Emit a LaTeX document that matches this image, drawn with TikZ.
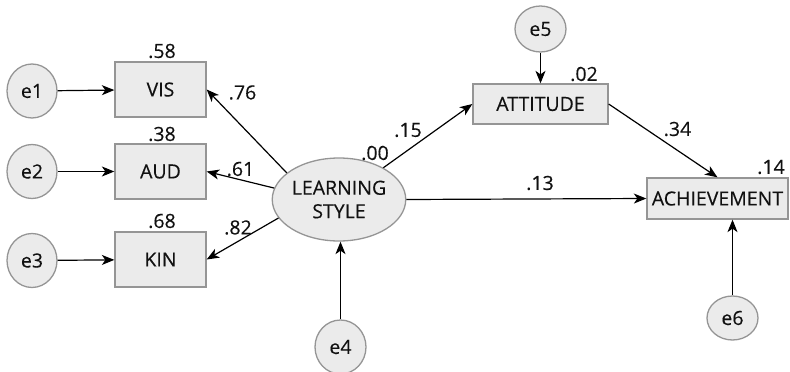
\documentclass[tikz,border=0pt]{standalone}
\usepackage{fontspec}
\setmainfont{Open Sans}[FakeBold=0.3]
\usetikzlibrary{arrows.meta,shapes.geometric}
\definecolor{nodefill}{HTML}{EBEBEB}
\definecolor{nodeline}{HTML}{959595}
\definecolor{inktext}{HTML}{111111}
\begin{document}
\begin{tikzpicture}[x=1pt,y=-1pt,
  font=\fontsize{19.5}{23.5}\selectfont,
  every node/.style={text=inktext},
  obs/.style={draw=nodeline,fill=nodefill,line width=1.3pt,rectangle,inner sep=0pt},
  err/.style={draw=nodeline,fill=nodefill,line width=1.3pt,ellipse,inner sep=0pt},
  lat/.style={draw=nodeline,fill=nodefill,line width=1.3pt,ellipse,inner sep=0pt,align=center},
  arr/.style={-{Stealth[length=12.5pt,width=10pt,inset=3.5pt]},line width=1.2pt,draw=black},
  lbl/.style={inner sep=0pt}]
\useasboundingbox (0,0) rectangle (790,372);
% observed boxes
\node[obs,minimum width=91pt,minimum height=55pt] (vis) at (160.5,89.5) {VIS};
\node[obs,minimum width=91pt,minimum height=55pt] (aud) at (160.5,171.5) {AUD};
\node[obs,minimum width=91pt,minimum height=55pt] (kin) at (160.5,259.5) {KIN};
\node[obs,minimum width=135pt,minimum height=40pt] (att) at (540.5,104) {ATTITUDE};
\node[obs,minimum width=141pt,minimum height=41pt] (ach) at (717.5,198.5) {ACHIEVEMENT};
% latent
\node[lat,minimum width=132pt,minimum height=83pt] (ls) at (339,199.5) {LEARNING\\STYLE};
% errors
\node[err,minimum width=50pt,minimum height=54pt] (e1) at (32,91) {e1};
\node[err,minimum width=50pt,minimum height=54pt] (e2) at (32,171.5) {e2};
\node[err,minimum width=50pt,minimum height=54pt] (e3) at (32,260.5) {e3};
\node[err,minimum width=51pt,minimum height=54pt] (e4) at (340.5,347) {e4};
\node[err,minimum width=51pt,minimum height=46pt] (e5) at (540.5,29) {e5};
\node[err,minimum width=51pt,minimum height=44pt] (e6) at (732.5,318) {e6};
% connectors
\draw[arr] (e1) -- (vis);
\draw[arr] (e2) -- (aud);
\draw[arr] (e3) -- (kin);
\draw[arr] (ls.153) -- (vis.east);
\draw[arr] (ls.170) -- (aud.east);
\draw[arr] (ls.197) -- (kin.east);
\draw[arr] (ls) -- (att.west);
\draw[arr] (ls.east) -- (ach.west);
\draw[arr] (att.east) -- (ach.north);
\draw[arr] (e4) -- (e4 |- ls.south);
\draw[arr] (e5) -- (att);
\draw[arr] (e6.north) -- (e6 |- ach.south);
% labels
\node[lbl] (l58) at (162,51) {.58};
\node[lbl] (l38) at (162,134) {.38};
\node[lbl] (l68) at (162,221) {.68};
\node[lbl] (l76) at (242.5,92.5) {.76};
\node[lbl] (l61) at (240.5,169) {.61};
\node[lbl] (l82) at (238,227.5) {.82};
\node[lbl] (l00) at (375,153) {.00};
\node[lbl] (l15) at (408,130) {.15};
\node[lbl] (l13) at (540,183) {.13};
\node[lbl] (l34) at (677.5,129) {.34};
\node[lbl] (l02) at (584,74) {.02};
\node[lbl] (l14) at (771,167) {.14};
\end{tikzpicture}
\end{document}
